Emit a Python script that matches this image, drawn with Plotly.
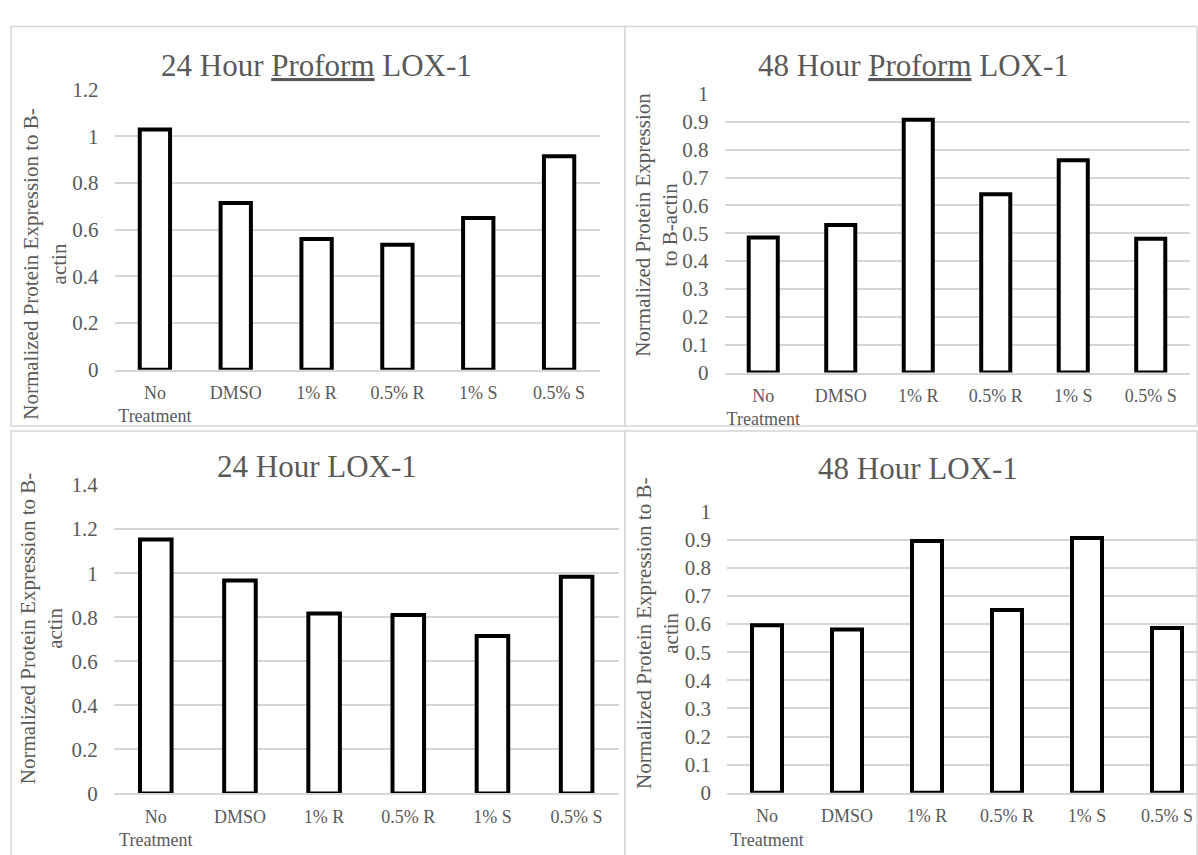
import plotly.graph_objects as go

W, H = 1198, 855

# Treatment groups shown along every x axis
categories = ["No Treatment", "DMSO", "1% R", "0.5% R", "1% S", "0.5% S"]
tick_labels = ["No<br>Treatment", "DMSO", "1% R", "0.5% R", "1% S", "0.5% S"]

# Normalized protein expression to B-actin
proform_24h = [1.03, 0.715, 0.56, 0.535, 0.65, 0.915]
proform_48h = [0.485, 0.53, 0.907, 0.64, 0.762, 0.48]
lox1_24h = [1.153, 0.967, 0.817, 0.81, 0.715, 0.984]
lox1_48h = [0.596, 0.581, 0.895, 0.65, 0.906, 0.586]

titles = [
    '24 Hour <span style="text-decoration:underline">Proform</span> LOX-1',
    '48 Hour <span style="text-decoration:underline">Proform</span> LOX-1',
    "24 Hour LOX-1",
    "48 Hour LOX-1",
]
y_titles = [
    "Normalized Protein Expression to B-<br>actin",
    "Normalized Protein Expression<br>to B-actin",
    "Normalized Protein Expression to B-<br>actin",
    "Normalized Protein Expression to B-<br>actin",
]
series = [proform_24h, proform_48h, lox1_24h, lox1_48h]
y_max = [1.2, 1.0, 1.4, 1.0]
y_step = [0.2, 0.1, 0.2, 0.1]

FONT = "Liberation Serif, Times New Roman, serif"
TXT = "#595959"
GRID = "#d6d6d6"


def fx(px):
    return px / W


def fy(py):
    return 1 - py / H


# panel geometry in pixels: frame box, plot box, title centre, y-title centre, x range end
panels = [
    dict(frame=(11, 15, 625, 426), plot=(114.5, 80, 599.5, 368), title=(316, 55),
         ytitle=(45, 260), xend=5.5),
    dict(frame=(625, 15, 1197, 426), plot=(724.5, 84.3, 1189.5, 371), title=(914, 55),
         ytitle=(657, 219), xend=5.5),
    dict(frame=(11, 431, 625, 870), plot=(113.7, 486.7, 618.7, 804), title=(317, 468),
         ytitle=(41, 635), xend=5.5),
    dict(frame=(625, 431, 1197, 870), plot=(727, 514, 1198, 803.3), title=(918, 470),
         ytitle=(657, 640), xend=-0.5 + (1198 - 727) / 80.0),
]

fig = go.Figure()
shapes = []
annotations = []
layout_axes = {}

for i, (p, vals) in enumerate(zip(panels, series)):
    n = "" if i == 0 else str(i + 1)
    fig.add_trace(go.Bar(
        x=categories, y=vals,
        xaxis="x" + n, yaxis="y" + n,
        marker=dict(color="white", line=dict(color="black", width=4)),
        width=0.375,
        showlegend=False, hoverinfo="x+y",
    ))
    x0, y0, x1, y1 = p["plot"]
    layout_axes["xaxis" + n] = dict(
        domain=[fx(x0), fx(x1)], anchor="y" + n, type="category",
        categoryorder="array", categoryarray=categories,
        range=[-0.5, p["xend"]],
        tickmode="array", tickvals=categories, ticktext=tick_labels,
        showgrid=False, zeroline=False,
        showline=True, linecolor=GRID, linewidth=1.5, layer="above traces",
        ticks="", ticklabelstandoff=6,
        tickfont=dict(family=FONT, size=18, color=TXT),
        fixedrange=True,
    )
    layout_axes["yaxis" + n] = dict(
        domain=[fy(y1), fy(y0)], anchor="x" + n,
        range=[0, y_max[i]], dtick=y_step[i], tick0=0,
        showgrid=True, gridcolor=GRID, gridwidth=1.5,
        zeroline=False, showline=False, ticks="",
        ticklabelstandoff=15,
        tickfont=dict(family=FONT, size=21, color=TXT),
        fixedrange=True,
    )
    fx0, fy0, fx1, fy1 = p["frame"]
    shapes.append(dict(
        type="rect", xref="paper", yref="paper", layer="below",
        x0=fx(fx0), x1=fx(fx1), y0=fy(fy1), y1=fy(fy0),
        line=dict(color=GRID, width=1.5), fillcolor="white",
    ))
    tx, ty = p["title"]
    annotations.append(dict(
        text=titles[i], xref="paper", yref="paper", x=fx(tx), y=fy(ty),
        xanchor="center", yanchor="middle", showarrow=False,
        font=dict(family=FONT, size=31, color=TXT),
    ))
    ax_, ay_ = p["ytitle"]
    annotations.append(dict(
        text=y_titles[i], xref="paper", yref="paper", x=fx(ax_), y=fy(ay_),
        xanchor="center", yanchor="middle", showarrow=False, textangle=-90,
        font=dict(family=FONT, size=21, color=TXT),
    ))

fig.update_layout(
    width=W, height=H,
    margin=dict(l=0, r=0, t=0, b=0),
    paper_bgcolor="white", plot_bgcolor="rgba(0,0,0,0)",
    shapes=shapes, annotations=annotations,
    bargap=0.625,
    **layout_axes,
)

fig.write_html("out.html", config={"displayModeBar": False})
